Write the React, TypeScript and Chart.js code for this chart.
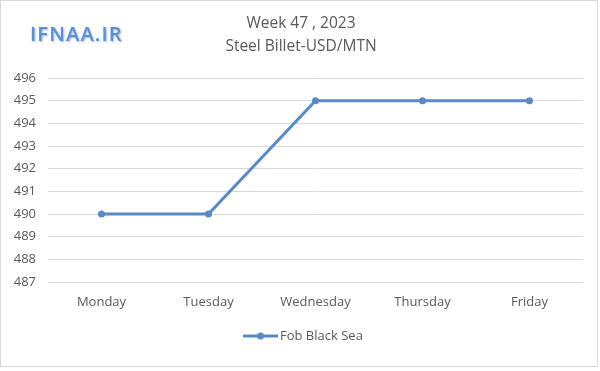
import React, { useEffect, useRef } from "react";
import { Chart, registerables } from "chart.js";

Chart.register(...registerables);

const categories = ["Monday", "Tuesday", "Wednesday", "Thursday", "Friday"];
const seriesName = "Fob Black Sea";
const values = [490, 490, 495, 495, 495];
const titleLines = ["Week 47 , 2023", "Steel Billet-USD/MTN"];
const logoText = "IFNAA.IR";
const yMin = 487;
const yMax = 496;

const LINE_COLOR = "#5a8ac6";
const TEXT_COLOR = "#595959";
const GRID_COLOR = "#d9d9d9";
const FONT = "'Open Sans', 'Liberation Sans', sans-serif";

const decorPlugin = {
  id: "decor",
  afterDraw(chart: any) {
    const ctx = chart.ctx;
    ctx.save();
    // titles
    ctx.fillStyle = TEXT_COLOR;
    ctx.font = `15.5px ${FONT}`;
    ctx.textAlign = "center";
    ctx.textBaseline = "middle";
    ctx.fillText(titleLines[0], 301, 24);
    ctx.fillText(titleLines[1], 301, 47);
    // logo
    ctx.font = `600 20px ${FONT}`;
    (ctx as any).letterSpacing = "1.2px";
    ctx.textAlign = "left";
    ctx.shadowColor = "rgba(140,170,220,0.9)";
    ctx.shadowBlur = 2;
    ctx.shadowOffsetX = 1;
    ctx.shadowOffsetY = 1;
    ctx.fillStyle = "#5d8ed2";
    ctx.fillText(logoText, 30, 35);
    ctx.shadowColor = "transparent";
    (ctx as any).letterSpacing = "0px";
    // legend
    const ds = chart.data.datasets[0];
    const ly = 336;
    const lx1 = 243;
    const lx2 = 278;
    ctx.strokeStyle = LINE_COLOR;
    ctx.lineWidth = 3;
    ctx.beginPath();
    ctx.moveTo(lx1, ly);
    ctx.lineTo(lx2, ly);
    ctx.stroke();
    ctx.fillStyle = LINE_COLOR;
    ctx.beginPath();
    ctx.arc((lx1 + lx2) / 2, ly, 3.5, 0, Math.PI * 2);
    ctx.fill();
    ctx.fillStyle = TEXT_COLOR;
    ctx.font = `13px ${FONT}`;
    ctx.textAlign = "left";
    ctx.fillText(ds.label, 280, ly);
    ctx.restore();
  },
};

export default function App() {
  const ref = useRef<HTMLCanvasElement>(null);
  useEffect(() => {
    const chart = new Chart(ref.current!, {
      type: "line",
      data: {
        labels: categories,
        datasets: [
          {
            label: seriesName,
            data: values,
            borderColor: LINE_COLOR,
            backgroundColor: LINE_COLOR,
            borderWidth: 3,
            pointRadius: 3.5,
            pointHoverRadius: 3.5,
            pointBackgroundColor: LINE_COLOR,
            pointBorderWidth: 0,
            tension: 0,
          },
        ],
      },
      options: {
        responsive: false,
        animation: false,
        layout: { padding: { left: 0, top: 78, right: 17, bottom: 59 } },
        plugins: {
          legend: { display: false },
          title: { display: false },
          tooltip: { enabled: false },
        },
        scales: {
          x: {
            offset: true,
            grid: { display: false },
            border: { display: false },
            ticks: { color: TEXT_COLOR, font: { family: FONT, size: 13 }, padding: 4, maxRotation: 0 },
            afterFit: (s: any) => {
              s.height = 30;
            },
          },
          y: {
            min: yMin,
            max: yMax,
            grid: { color: GRID_COLOR, drawTicks: false, lineWidth: 1 },
            border: { display: false },
            ticks: { color: TEXT_COLOR, font: { family: FONT, size: 13 }, padding: 12, stepSize: 1 },
            afterFit: (s: any) => {
              s.width = 48;
            },
          },
        },
      },
      plugins: [decorPlugin],
    });
    return () => chart.destroy();
  }, []);
  return (
    <div style={{ position: "fixed", left: 0, top: 0, width: 600, height: 371, background: "#fff" }}>
      <canvas ref={ref} width={600} height={371} style={{ display: "block" }} />
      <div
        style={{
          position: "absolute",
          left: 0,
          top: 0,
          width: 596,
          height: 365,
          border: "1px solid #d9d9d9",
          pointerEvents: "none",
        }}
      />
    </div>
  );
}
